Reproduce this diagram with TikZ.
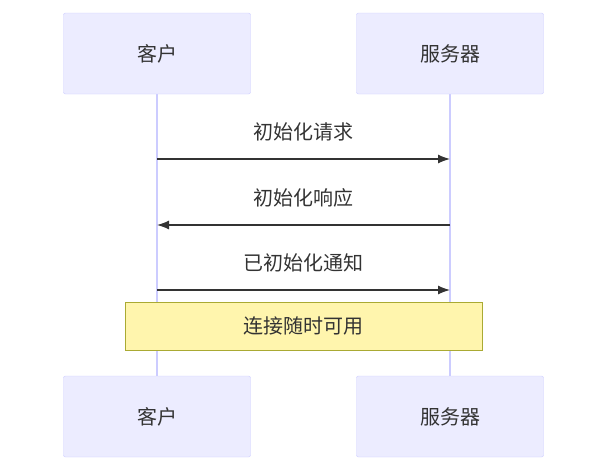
\documentclass[tikz,border=0pt]{standalone}
\usepackage{fontspec}
\newfontfamily\cjk{Noto Sans CJK SC}
\usetikzlibrary{positioning,arrows.meta}
\definecolor{actorfill}{HTML}{ECECFF}
\definecolor{actorline}{HTML}{CCCCFF}
\definecolor{notefill}{HTML}{FFF5AD}
\definecolor{noteline}{HTML}{AAAA33}
\definecolor{msgline}{HTML}{333333}
\begin{document}
\begin{tikzpicture}[x=1pt, y=-1pt,
			every node/.style = {font=\cjk\fontsize{20}{24}\selectfont, text=msgline},
			actor/.style  = {draw=actorline, fill=actorfill, rounded corners=2pt, minimum width=187pt, minimum height=81pt},
			note/.style   = {draw=noteline, fill=notefill, minimum width=357pt, minimum height=48pt},
			lifeline/.style = {draw=actorline, line width=1.5pt},
			msg/.style    = {draw=msgline, line width=1.2pt, -{Latex[length=12pt,width=9pt]}},]
			
			\useasboundingbox (0,0) rectangle (607,471);
			
			%% LIFELINES
			\coordinate (clientTop) at (157,94);
			\coordinate (clientBot) at (157,376);
			\coordinate (serverTop) at (450,94);
			\coordinate (serverBot) at (450,376);
			\path[lifeline] (clientTop) -- (clientBot);
			\path[lifeline] (serverTop) -- (serverBot);
			
			%% ACTORS
			\node[actor] (client) at (157,53.5) {客户};
			\node[actor] (server) at (450,53.5) {服务器};
			\node[actor] (clientB) at (157,416.5) {客户};
			\node[actor] (serverB) at (450,416.5) {服务器};
			
			%% MESSAGES
			\coordinate (c1) at (157,159); \coordinate (s1) at (450,159);
			\coordinate (c2) at (157,225); \coordinate (s2) at (450,225);
			\coordinate (c3) at (157,290); \coordinate (s3) at (450,290);
			\draw[msg] (c1) -- (s1) node[pos=.5, above=14pt] (m1) {初始化请求};
			\draw[msg] (s2) -- (c2) node[pos=.5, above=14pt] (m2) {初始化响应};
			\draw[msg] (c3) -- (s3) node[pos=.5, above=14pt] (m3) {已初始化通知};
			
			%% NOTE
			\node[note] (ready) at (303.5,326) {连接随时可用};
\end{tikzpicture}
\end{document}
